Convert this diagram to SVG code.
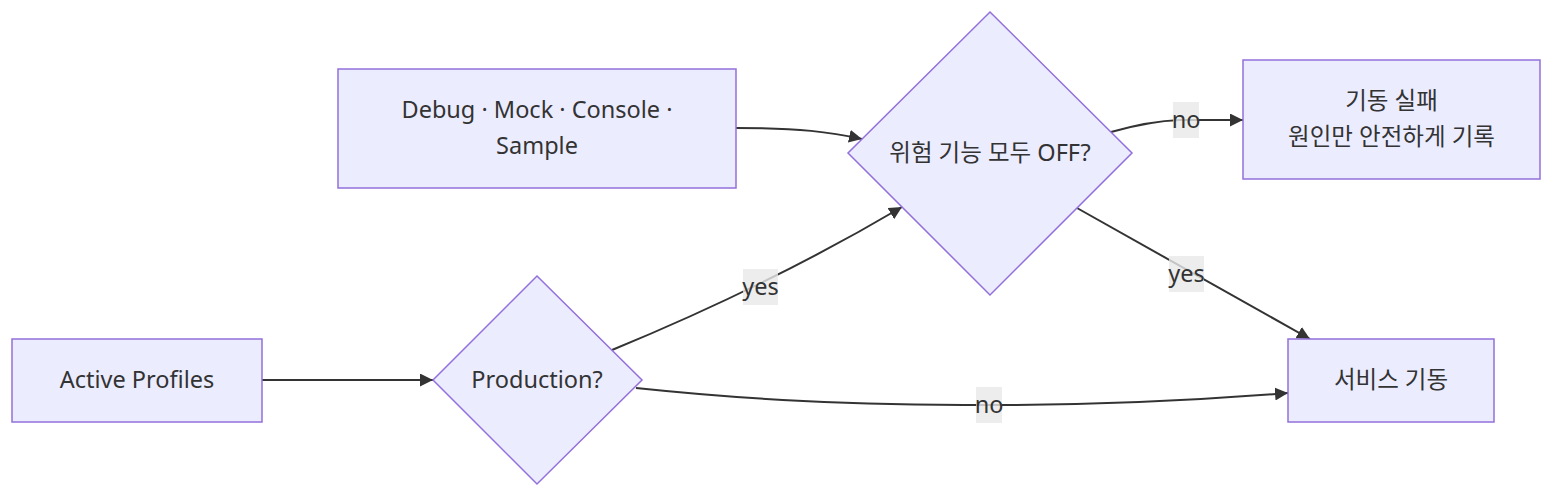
<svg xmlns="http://www.w3.org/2000/svg" width="1568" height="504" viewBox="0 0 1568 504">
<style>
text{font-family:"Noto Sans","Noto Sans CJK KR",sans-serif;font-size:23.5px;fill:#333;text-anchor:middle}
.node{fill:#ECECFF;stroke:#9370DB;stroke-width:1.5}
.edge{fill:none;stroke:#333;stroke-width:2}
.lbl{fill:#e8e8e8;opacity:0.8}
</style>
<defs>
<marker id="arrow" viewBox="0 0 10 10" refX="10" refY="5" markerUnits="userSpaceOnUse" markerWidth="13" markerHeight="13" orient="auto">
<path d="M0,0 L10,5 L0,10 z" fill="#333"/>
</marker>
</defs>
<rect width="1568" height="504" fill="#fff"/>
<g id="connectors">
<path class="edge" d="M262,380 L433,380" marker-end="url(#arrow)"/>
<path class="edge" d="M736,128 C800,128 830,132 862,139" marker-end="url(#arrow)"/>
<path class="edge" d="M612,350 Q770,285 902,207" marker-end="url(#arrow)"/>
<path class="edge" d="M1111,132 Q1150,121 1180,120 L1243,120" marker-end="url(#arrow)"/>
<path class="edge" d="M1077,208 L1310,339" marker-end="url(#arrow)"/>
<path class="edge" d="M636,388 C750,400 850,405 989,405 C1100,405 1200,400 1288,393" marker-end="url(#arrow)"/>
<g id="label-yes1"><rect class="lbl" x="743" y="269" width="35" height="36"/><text x="760.5" y="295">yes</text></g>
<g id="label-no1"><rect class="lbl" x="1173" y="102" width="26" height="36"/><text x="1186" y="128">no</text></g>
<g id="label-yes2"><rect class="lbl" x="1169" y="256" width="35" height="36"/><text x="1186.5" y="282">yes</text></g>
<g id="label-no2"><rect class="lbl" x="976" y="387" width="26" height="36"/><text x="989" y="413">no</text></g>
</g>
<g id="node-active"><rect class="node" x="12" y="339" width="250" height="83"/><text x="137" y="388">Active Profiles</text></g>
<g id="node-production"><polygon class="node" points="537,276 642,380 537,484 433,380"/><text x="537" y="388">Production?</text></g>
<g id="node-debug"><rect class="node" x="338" y="69" width="398" height="119"/><text x="537" y="118">Debug · Mock · Console ·</text><text x="537" y="154">Sample</text></g>
<g id="node-danger"><polygon class="node" points="990,12 1132,153 990,295 848,153"/><text x="990" y="161">위험 기능 모두 OFF?</text></g>
<g id="node-failure"><rect class="node" x="1243" y="60" width="297" height="119"/><text x="1391.5" y="109">기동 실패</text><text x="1391.5" y="145">원인만 안전하게 기록</text></g>
<g id="node-service"><rect class="node" x="1288" y="339" width="206" height="83"/><text x="1391" y="388">서비스 기동</text></g>
</svg>
